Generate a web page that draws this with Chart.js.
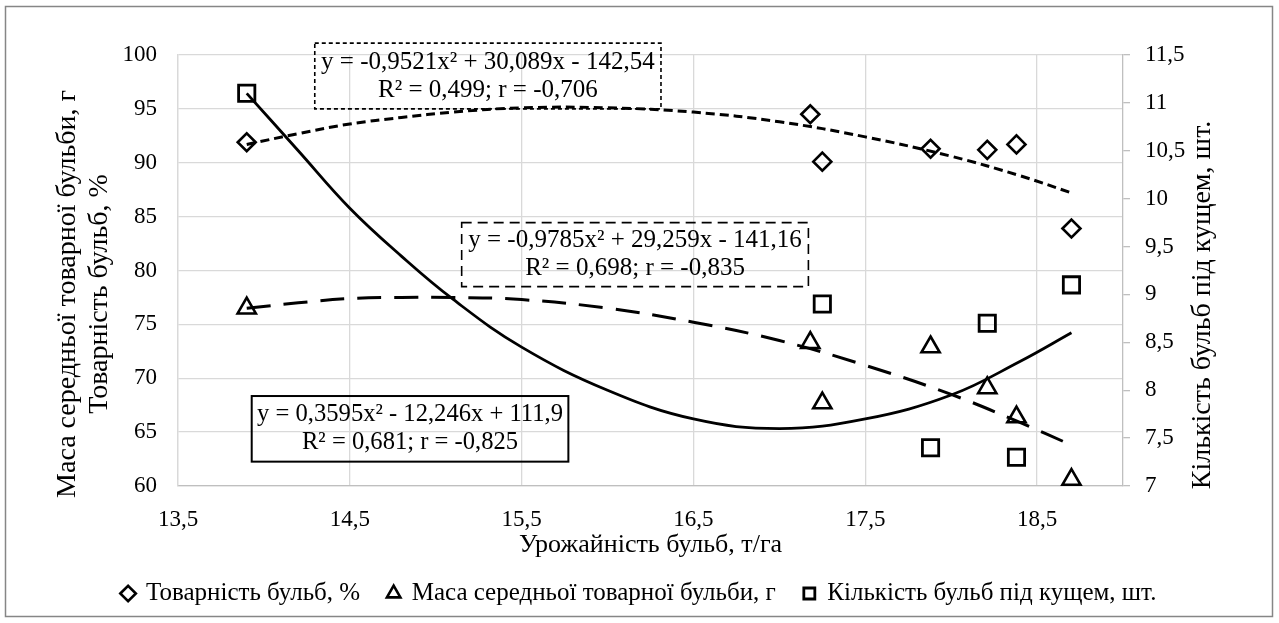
<!DOCTYPE html>
<html lang="uk">
<head>
<meta charset="utf-8">
<title>Урожайність бульб</title>
<script src="https://cdn.jsdelivr.net/npm/chart.js@4.4.1/dist/chart.umd.min.js"></script>
<style>
html,body{margin:0;padding:0;background:#fff;}
#wrap{position:relative;width:1279px;height:623px;}
</style>
</head>
<body>
<div id="wrap"><canvas id="grafik"></canvas></div>
<script>
// урожайність бульб, т/га (вісь X)
const urozhai=[13.9,17.18,17.25,17.88,18.21,18.38,18.7];
const tovarnist=[91.9,94.5,90.1,91.3,91.2,91.7,83.9];
const masa=[76.5,73.3,67.7,72.9,69.1,66.4,60.6];
const urozhaiKilkist=[13.9,17.25,17.88,18.21,18.38,18.7];
const kilkist=[11.1,8.9,7.4,8.7,7.3,9.1];

// лінії тренду
const trendX=[13.9,14.2,14.5,14.8,15.1,15.5,16,16.5,17,17.5,18,18.4,18.7];
const trendTovarnist=[91.7,92.7,93.6,94.2,94.7,95.1,95.1,94.7,93.8,92.4,90.6,88.8,87.2];
const trendMasa=[76.5,77,77.4,77.5,77.5,77.3,76.5,75.2,73.5,71.2,68.5,65.9,63.8];
const trendKilkist=[11.1,10.5,9.9,9.4,8.95,8.45,8,7.7,7.6,7.7,7.95,8.3,8.6];

const xTicks=[13.5,14.5,15.5,16.5,17.5,18.5];

const rivnyannya=[
["y = -0,9521x² + 30,089x - 142,54","R² = 0,499; r = -0,706"],
["y = -0,9785x² + 29,259x - 141,16","R² = 0,698; r = -0,835"],
["y = 0,3595x² - 12,246x + 111,9","R² = 0,681; r = -0,825"]
];

const shrift="Liberation Serif";

function tochky(xs,ys){
return xs.map((x,i)=>({x:x,y:ys[i]}));
}

function koma(v){
return String(v).replace(".",",");
}

// рамки з рівняннями (в одиницях осей X і лівої Y)
const ramky=[
{x0:14.296,x1:16.311,y0:101.1,y1:95.0,dash:[4,3],font:25},
{x0:15.151,x1:17.169,y0:84.44,y1:78.5,dash:[10,6],font:25},
{x0:13.929,x1:15.772,y0:68.35,y1:62.26,dash:[],font:24.6}
];

const dodatky={
id:"dodatky",
afterLayout(chart){
let lg=chart.legend;
lg.top-=7;lg.bottom-=7;
},
beforeDraw(chart){
let c=chart.ctx;
c.save();
c.fillStyle="#fff";
c.fillRect(0,0,chart.width,chart.height);
c.strokeStyle="#868686";
c.lineWidth=1.5;
c.strokeRect(5.5,6.5,1267,610);
c.restore();
},
afterDraw(chart){
let c=chart.ctx;
let sx=chart.scales.x;
let sy=chart.scales.y;
c.save();
c.fillStyle="#000";
c.strokeStyle="#000";
c.textAlign="center";
c.textBaseline="middle";
ramky.forEach((r,i)=>{
let l=sx.getPixelForValue(r.x0);
let p=sx.getPixelForValue(r.x1);
let t=sy.getPixelForValue(r.y0);
let b=sy.getPixelForValue(r.y1);
c.lineWidth=r.dash.length?1.6:2;
c.setLineDash(r.dash);
c.strokeRect(l,t,p-l,b-t);
let cx=(l+p)/2;
let cy=(t+b)/2;
c.font=r.font+"px '"+shrift+"'";
c.fillText(rivnyannya[i][0],cx,cy-14);
c.fillText(rivnyannya[i][1],cx,cy+14);
});
c.setLineDash([]);
// назви вертикальних осей
c.font="28px '"+shrift+"'";
c.translate(68,294);
c.rotate(-Math.PI/2);
c.fillText("Маса середньої товарної бульби, г",0,0);
c.fillText("Товарність бульб, %",0,32);
c.setTransform(1,0,0,1,0,0);
c.translate(1203,305);
c.rotate(-Math.PI/2);
c.fillText("Кількість бульб під кущем, шт.",0,0);
c.restore();
}
};

const tickFont={family:shrift,size:23};

new Chart(document.getElementById("grafik"),{
type:"scatter",
data:{
datasets:[
{label:"Товарність бульб, %",data:tochky(urozhai,tovarnist),yAxisID:"y",
pointStyle:"rectRot",pointRadius:9,pointBorderWidth:2.6,pointBorderColor:"#000",pointBackgroundColor:"rgba(0,0,0,0)",borderColor:"#000",backgroundColor:"rgba(0,0,0,0)"},
{label:"Маса середньої товарної бульби, г",data:tochky(urozhai,masa),yAxisID:"y",
pointStyle:"triangle",pointRadius:10.5,pointBorderWidth:2.6,pointBorderColor:"#000",pointBackgroundColor:"rgba(0,0,0,0)",borderColor:"#000",backgroundColor:"rgba(0,0,0,0)"},
{label:"Кількість бульб під кущем, шт.",data:tochky(urozhaiKilkist,kilkist),yAxisID:"y2",
pointStyle:"rect",pointRadius:11.5,pointBorderWidth:2.8,pointBorderColor:"#000",pointBackgroundColor:"rgba(0,0,0,0)",borderColor:"#000",backgroundColor:"rgba(0,0,0,0)"},
{label:"тренд1",type:"line",data:tochky(trendX,trendTovarnist),yAxisID:"y",
borderColor:"#000",borderWidth:3,borderDash:[9,5],pointRadius:0,tension:0.4,fill:false},
{label:"тренд2",type:"line",data:tochky(trendX,trendMasa),yAxisID:"y",
borderColor:"#000",borderWidth:3,borderDash:[24,13],pointRadius:0,tension:0.4,fill:false},
{label:"тренд3",type:"line",data:tochky(trendX,trendKilkist),yAxisID:"y2",
borderColor:"#000",borderWidth:2.8,pointRadius:0,tension:0.4,fill:false}
]
},
options:{
responsive:true,
maintainAspectRatio:false,
animation:false,
layout:{padding:{top:55,left:0,right:0,bottom:0}},
plugins:{
tooltip:{enabled:false},
legend:{
position:"bottom",
labels:{
usePointStyle:true,
boxWidth:11,
boxHeight:11,
padding:28,
color:"#000",
font:{family:shrift,size:25},
filter:item=>item.datasetIndex<3
}
}
},
scales:{
x:{
type:"linear",
position:"bottom",
min:13.5,
max:19,
afterBuildTicks:s=>{s.ticks=xTicks.map(v=>({value:v}));},
afterFit:s=>{s.height=s.chart.height-s.chart.legend.height-486;},
grid:{color:"#d9d9d9",lineWidth:1.3,drawTicks:false},
border:{color:"#bfbfbf",width:1.3},
ticks:{font:tickFont,color:"#000",padding:20,maxRotation:0,callback:v=>koma(v)},
title:{display:true,text:"Урожайність бульб, т/га",color:"#000",
font:{family:shrift,size:26,lineHeight:1.0},padding:{top:0,bottom:2}}
},
y:{
position:"left",
min:60,
max:100,
afterFit:s=>{s.width=178;},
grid:{color:"#d9d9d9",lineWidth:1.3,drawTicks:false},
border:{color:"#d9d9d9",width:1.3},
ticks:{font:tickFont,color:"#000",padding:21,stepSize:5}
},
y2:{
position:"right",
min:7,
max:11.5,
afterFit:s=>{s.width=1279-1123;},
grid:{drawOnChartArea:false,drawTicks:true,tickLength:7,color:"#bfbfbf",lineWidth:1.3},
border:{color:"#bfbfbf",width:1.3},
ticks:{font:tickFont,color:"#000",padding:15,stepSize:0.5,callback:v=>koma(v)}
}
}
},
plugins:[dodatky]
});
</script>
</body>
</html>
